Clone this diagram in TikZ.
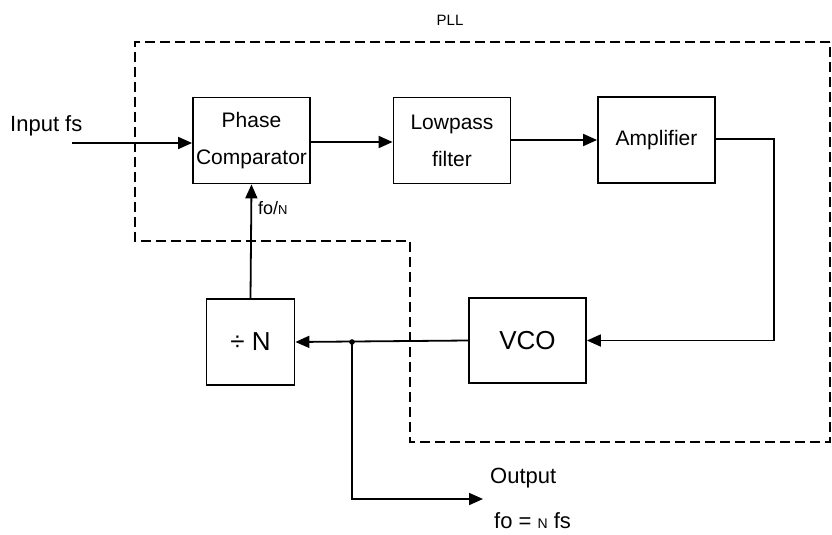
\documentclass[tikz,border=0pt]{standalone}
\usepackage{fontspec}
\setmainfont{Liberation Sans}
\usetikzlibrary{arrows.meta}
\begin{document}
\begin{tikzpicture}[x=1pt,y=-1pt,
  blk/.style={draw,line width=1.8pt,minimum width=117pt,minimum height=86pt,inner sep=0pt,align=center,font=\fontsize{21}{37}\selectfont},
  wire/.style={line width=1.8pt},
  arr/.style={wire,-{Triangle[length=14pt,width=12pt]}},
  bound/.style={line width=1.8pt,dash pattern=on 10pt off 5pt},
  lbl/.style={inner sep=0pt,font=\fontsize{22}{26}\selectfont}]
\useasboundingbox (0,0) rectangle (832,535);
% blocks
\node[blk] (pc) at (251.5,140.5) {Phase\\Comparator};
\node[blk] (lp) at (452,140.5) {Lowpass\\filter};
\node[blk] (amp) at (656.5,140) {Amplifier};
\node[blk,minimum width=88pt] (divn) at (250.5,342) {\fontsize{26}{28}\selectfont ÷ N};
\node[blk,minimum height=85pt] (vco) at (527.5,340.5) {\fontsize{26}{28}\selectfont VCO};
% boundary
\draw[bound] (830,42) -- (135,42) -- (135,241) -- (410,241) -- (410,442) -- (830,442) -- cycle;
\node[inner sep=0pt,font=\fontsize{15}{17}\selectfont] (pll) at (450,20) {PLL};
% input
\node[lbl,anchor=south west] (inp) at (10,136) {Input fs};
\coordinate (in) at (72,143);
\draw[arr] (in) -- (in -| pc.west);
% forward path
\draw[arr] (pc.east |- 0,142) -- (lp.west |- 0,142);
\draw[arr] (lp.east |- 0,140) -- (amp.west |- 0,140);
\coordinate (r1) at (774,139);
\draw[arr] (amp.east |- r1) -- (r1) |- (vco.east);
% feedback
\coordinate (j) at (352,342);
\draw[arr] (vco.west) -- (divn.east);
\fill (j) circle (2.8pt);
\draw[arr] (divn.north) -- (pc.south);
\node[inner sep=0pt,anchor=west,font=\fontsize{18}{20}\selectfont] (fon) at (258,208) {fo/{\fontsize{13}{14}\selectfont N}};
% output
\coordinate (o) at (483,499);
\draw[arr] (j) |- (o);
\node[lbl,anchor=west] (out) at (490,478) {Output};
\node[lbl,anchor=west] (fo) at (494,521) {fo = {\fontsize{14}{15}\selectfont N} fs};
\end{tikzpicture}
\end{document}
